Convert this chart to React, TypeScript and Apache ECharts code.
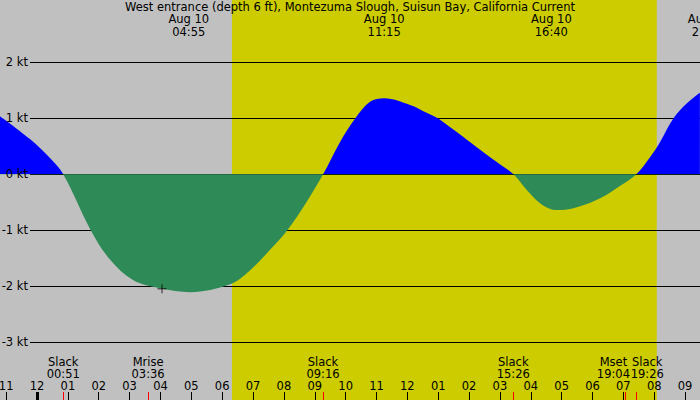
import React, { useEffect, useRef } from 'react';
import * as echarts from 'echarts';

// hours since Aug 10 00:00 (negative = Aug 9 evening)
const CURRENT_HOURS = [
  -1.2, -0.23, 0.42, 0.85, 1.74, 2.37, 3.11, 3.99, 4.96, 6.25, 6.9, 7.55, 8.11, 8.74,
  9.27, 9.82, 10.31, 10.79, 11.25, 12.09, 12.52, 13.0, 13.49, 13.93, 14.36, 14.9, 15.44,
  15.87, 16.3, 16.63, 16.95, 17.6, 18.25, 18.89, 19.42, 19.87, 20.19, 20.62, 21.06, 21.48,
];
// knots, + = flood, - = ebb
const CURRENT_KT = [
  1.04, 0.63, 0.29, 0, -1.0, -1.53, -1.89, -2.04, -2.11, -1.97, -1.72, -1.35, -1.0, -0.49,
  0, 0.58, 1.0, 1.3, 1.36, 1.24, 1.13, 1.0, 0.8, 0.62, 0.44, 0.22, 0,
  -0.28, -0.52, -0.62, -0.64, -0.57, -0.43, -0.21, 0, 0.31, 0.58, 1.0, 1.27, 1.46,
];

const HOUR_TICKS = [-1, 0, 1, 2, 3, 4, 5, 6, 7, 8, 9, 10, 11, 12, 13, 14, 15, 16, 17, 18, 19, 20, 21];

const EVENT_NAMES = ['Slack', 'Mrise', 'Slack', 'Slack', 'Mset', 'Slack'];
const EVENT_TIMES = ['00:51', '03:36', '09:16', '15:26', '19:04', '19:26'];

const EXTREME_DATE = 'Aug 10';
const EXTREME_TIMES = ['04:55', '11:15', '16:40', '21:45'];

const SUNRISE = '06:19';
const SUNSET = '20:05';

const NOW_MARK: [string, number] = ['04:03', -2.05];

const TITLE = 'West entrance (depth 6 ft), Montezuma Slough, Suisun Bay, California Current';

const toHours = (s: string) => {
  const [h, m] = s.split(':').map(Number);
  return h + m / 60;
};

const FONT = 'DejaVu Sans';
const FS = 11.5;

const App: React.FC = () => {
  const chartRef = useRef<HTMLDivElement>(null);

  useEffect(() => {
    if (!chartRef.current) return;
    const chart = echarts.init(chartRef.current, undefined, { renderer: 'svg' });

    const eventHours = EVENT_TIMES.map(toHours);
    const extremeHours = EXTREME_TIMES.map(toHours);
    const findIdx = (arr: number[], v: number) => arr.findIndex(a => Math.abs(a - v) < 1e-6);

    const hourLabel = (v: number) => {
      const h = ((Math.round(v) % 12) + 12) % 12;
      return h === 0 ? '12' : String(h).padStart(2, '0');
    };

    const xBase = {
      type: 'value' as const,
      gridIndex: 0,
      min: -1.2,
      max: 22.78,
      z: 3,
      axisLine: { show: false, onZero: false },
      splitLine: { show: false },
    };

    // the last slack sits next to moonset, so it gets its own axis to keep both labels
    const eventAxis = (values: number[]) => ({
      ...xBase,
      position: 'bottom' as const,
      axisTick: { show: true, inside: true, length: 8, lineStyle: { color: '#ff0000', width: 1 }, customValues: values },
      axisLabel: {
        show: true,
        inside: true,
        margin: 20.5,
        color: '#000',
        fontFamily: FONT,
        fontSize: FS,
        lineHeight: 12,
        showMinLabel: true,
        showMaxLabel: true,
        hideOverlap: false,
        customValues: values,
        formatter: (v: number) => {
          const i = findIdx(eventHours, v);
          if (i < 0) return '';
          const name = EVENT_NAMES[i];
          const t = EVENT_TIMES[i];
          if (i === 4) return `{l|${name}}\n{l|${t}}`;
          if (i === 5) return `{r|${name}}\n{r|${t}}`;
          return `${name}\n${t}`;
        },
        rich: {
          l: { fontFamily: FONT, fontSize: FS, lineHeight: 12, color: '#000', padding: [0, 24, 0, 0] },
          r: { fontFamily: FONT, fontSize: FS, lineHeight: 12, color: '#000', padding: [0, 0, 0, 21] },
        },
      },
    });

    const option: echarts.EChartsOption = {
      animation: false,
      backgroundColor: '#c0c0c0',
      textStyle: { fontFamily: FONT, fontSize: FS, color: '#000' },
      title: {
        text: TITLE,
        left: 'center',
        top: 1,
        padding: 0,
        textStyle: { fontFamily: FONT, fontSize: FS, fontWeight: 'normal', color: '#000' },
      },
      grid: [
        { left: 0, right: -40, top: 0, bottom: 0, outerBoundsMode: 'none', containLabel: false },
        { left: 30, right: 0, top: 62, bottom: 58, outerBoundsMode: 'none', containLabel: false },
      ] as any,
      xAxis: [
        {
          ...xBase,
          position: 'bottom',
          axisTick: { show: true, inside: true, length: 8, lineStyle: { color: '#000', width: 1 }, customValues: HOUR_TICKS },
          axisLabel: {
            show: true, inside: true, margin: 8.5, color: '#000', fontFamily: FONT, fontSize: FS, lineHeight: 12,
            showMinLabel: true, showMaxLabel: true, customValues: HOUR_TICKS, formatter: hourLabel,
          },
        },
        eventAxis(eventHours.slice(0, 5)),
        eventAxis(eventHours.slice(5)),
        {
          ...xBase,
          position: 'bottom',
          axisTick: { show: true, inside: true, length: 8, lineStyle: { color: '#000', width: 3 }, customValues: [0] },
          axisLabel: { show: false, customValues: [0] },
        },
        {
          ...xBase,
          position: 'top',
          axisTick: { show: false, customValues: extremeHours },
          axisLabel: {
            show: true,
            inside: true,
            margin: 13,
            color: '#000',
            fontFamily: FONT,
            fontSize: FS,
            lineHeight: 12.5,
            showMinLabel: true,
            showMaxLabel: true,
            customValues: extremeHours,
            formatter: (v: number) => {
              const i = findIdx(extremeHours, v);
              return i < 0 ? '' : `${EXTREME_DATE}\n${EXTREME_TIMES[i]}`;
            },
          },
        },
        { type: 'value', gridIndex: 1, show: false, min: 0, max: 1 },
      ],
      yAxis: [
        { type: 'value', gridIndex: 0, show: false, min: -4.04, max: 3.12 },
        {
          type: 'value',
          gridIndex: 1,
          position: 'left',
          min: -3,
          max: 2,
          interval: 1,
          z: 1.5,
          axisLine: { show: false, onZero: false },
          axisTick: { show: false },
          axisLabel: { show: false },
          splitLine: { show: true, lineStyle: { color: '#000', width: 1 } },
        },
        {
          type: 'value',
          gridIndex: 1,
          position: 'left',
          offset: 0,
          min: -3,
          max: 2,
          interval: 1,
          z: 3,
          axisLine: { show: false, onZero: false },
          axisTick: { show: false },
          splitLine: { show: false },
          axisLabel: {
            show: true,
            margin: 2,
            color: '#000',
            fontFamily: FONT,
            fontSize: FS,
            formatter: (v: number) => `${v} kt`,
          },
        },
      ],
      visualMap: {
        type: 'piecewise',
        show: false,
        seriesIndex: 0,
        dimension: 1,
        pieces: [
          { gte: -10, lt: 0, color: '#2e8b57' },
          { gte: 0, lte: 10, color: '#0000ff' },
        ],
      },
      series: [
        {
          type: 'line',
          xAxisIndex: 0,
          yAxisIndex: 0,
          z: 2,
          smooth: 0.35,
          symbol: 'none',
          lineStyle: { width: 0, opacity: 0 },
          areaStyle: { opacity: 1, origin: 0 },
          data: CURRENT_HOURS.map((h, i) => [h, CURRENT_KT[i]]),
          markArea: {
            silent: true,
            itemStyle: { color: '#cccc00', opacity: 1 },
            label: { show: false },
            data: [[{ xAxis: toHours(SUNRISE) }, { xAxis: toHours(SUNSET) }]],
          },
        },
        {
          type: 'scatter',
          xAxisIndex: 0,
          yAxisIndex: 0,
          z: 4,
          symbol: 'path://M0,5H10M5,0V10',
          symbolSize: 9,
          itemStyle: { color: 'rgba(0,0,0,0)', borderColor: '#000', borderWidth: 1 },
          data: [[toHours(NOW_MARK[0]), NOW_MARK[1]]],
        },
      ],
    };

    chart.setOption(option);

    return () => {
      chart.dispose();
    };
  }, []);

  return <div ref={chartRef} style={{ position: 'fixed', left: 0, top: 0, width: 700, height: 400 }} />;
};

export default App;
